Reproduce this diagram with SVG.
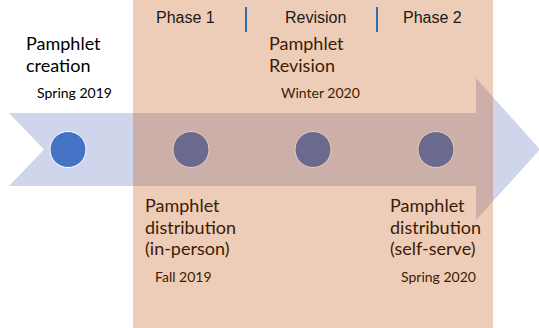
<svg xmlns="http://www.w3.org/2000/svg" width="539" height="328" viewBox="0 0 539 328">
<style>
.big{font-family:Lato,"Open Sans","Liberation Sans",sans-serif;font-size:18px;fill:#000}
.small{font-family:Lato,"Open Sans","Liberation Sans",sans-serif;font-size:14px;fill:#000}
.phase{font-family:"Liberation Sans",Arial,sans-serif;font-size:16px;fill:#1a1a1a}
.dot{fill:#4472C4;stroke:#ffffff;stroke-width:1}
.sep{stroke:#2E6DB4;stroke-width:2}
</style>
<rect width="539" height="328" fill="#ffffff"/>
<g id="arrow">
<path d="M9,113 L476,113 L476,78 L540,149.5 L476,220 L476,186 L9,186 L44,149.5 Z" fill="#CFD5EA"/>
</g>
<g id="connectors"></g>
<g id="node-creation">
<circle class="dot" cx="68" cy="149.5" r="18"/>
<text class="big" x="26" y="50">Pamphlet</text>
<text class="big" x="26" y="72">creation</text>
<text class="small" x="37" y="98">Spring 2019</text>
</g>
<g id="node-distribution-inperson">
<circle class="dot" cx="191" cy="149.5" r="18"/>
<text class="big" x="145" y="212">Pamphlet</text>
<text class="big" x="145" y="233.5">distribution</text>
<text class="big" x="145" y="255">(in-person)</text>
<text class="small" x="155" y="282">Fall 2019</text>
</g>
<g id="node-revision">
<circle class="dot" cx="313" cy="149.5" r="18"/>
<text class="big" x="269" y="50">Pamphlet</text>
<text class="big" x="269" y="72">Revision</text>
<text class="small" x="281" y="98">Winter 2020</text>
</g>
<g id="node-distribution-selfserve">
<circle class="dot" cx="436" cy="149.5" r="18"/>
<text class="big" x="390" y="212">Pamphlet</text>
<text class="big" x="390" y="233.5">distribution</text>
<text class="big" x="390" y="255">(self-serve)</text>
<text class="small" x="401" y="282">Spring 2020</text>
</g>
<g id="phase-band">
<rect x="133" y="0" width="360" height="328" fill="#C55A11" fill-opacity="0.3"/>
</g>
<g id="phase-labels">
<text class="phase" x="156" y="23">Phase 1</text>
<line class="sep" x1="246" y1="7" x2="246" y2="32"/>
<text class="phase" x="285" y="23">Revision</text>
<line class="sep" x1="377" y1="7" x2="377" y2="32"/>
<text class="phase" x="403" y="23">Phase 2</text>
</g>
</svg>
